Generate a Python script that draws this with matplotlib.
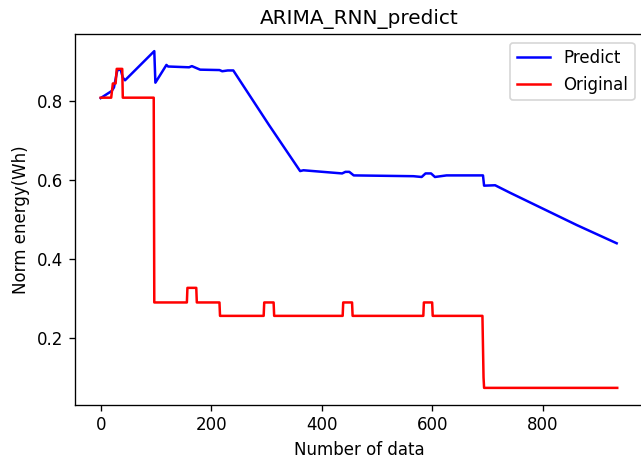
import matplotlib
matplotlib.use("Agg")
import matplotlib.pyplot as plt
import numpy as np

# Predict (blue) series vertices
pred_x = [0, 20, 24, 30, 36, 40, 44, 97, 99, 119, 122, 160, 165, 170, 180, 215, 220, 230,
          240, 305, 361, 367, 437, 443, 450, 458, 566, 581, 588, 598, 605, 626, 692, 694,
          714, 741, 862, 934]
pred_y = [0.808, 0.826, 0.835, 0.878, 0.881, 0.860, 0.853, 0.927, 0.847, 0.892, 0.888,
          0.886, 0.889, 0.886, 0.880, 0.879, 0.876, 0.878, 0.878, 0.739, 0.623, 0.625,
          0.617, 0.621, 0.621, 0.612, 0.610, 0.608, 0.617, 0.617, 0.608, 0.612, 0.612,
          0.586, 0.587, 0.568, 0.486, 0.440]

# Original (red) series vertices
orig_x = [0, 19, 22, 27, 29, 39, 40, 96, 97, 156, 157, 173, 174, 215, 216, 295, 296,
          313, 314, 438, 439, 455, 456, 584, 585, 600, 601, 691, 693, 694, 935]
orig_y = [0.809, 0.809, 0.845, 0.845, 0.882, 0.882, 0.809, 0.809, 0.290, 0.290, 0.327,
          0.327, 0.290, 0.290, 0.256, 0.256, 0.290, 0.290, 0.256, 0.256, 0.290, 0.290,
          0.256, 0.256, 0.290, 0.290, 0.256, 0.256, 0.100, 0.0735, 0.0735]

title = "ARIMA_RNN_predict"
xlabel = "Number of data"
ylabel = "Norm energy(Wh)"
labels = ["Predict", "Original"]

DPI = 120
fig = plt.figure(figsize=(641 / DPI, 462 / DPI), dpi=DPI)
ax = fig.add_axes([0.1168, 0.124, 0.8864, 0.8018])
ax.plot(pred_x, pred_y, color="b", label=labels[0])
ax.plot(orig_x, orig_y, color="r", label=labels[1])
ax.set_title(title)
ax.set_xlabel(xlabel)
ax.set_ylabel(ylabel)
ax.set_xticks([0, 200, 400, 600, 800])
ax.set_yticks([0.2, 0.4, 0.6, 0.8])
ax.legend(loc="upper right")
fig.savefig("out.png", dpi=DPI)
